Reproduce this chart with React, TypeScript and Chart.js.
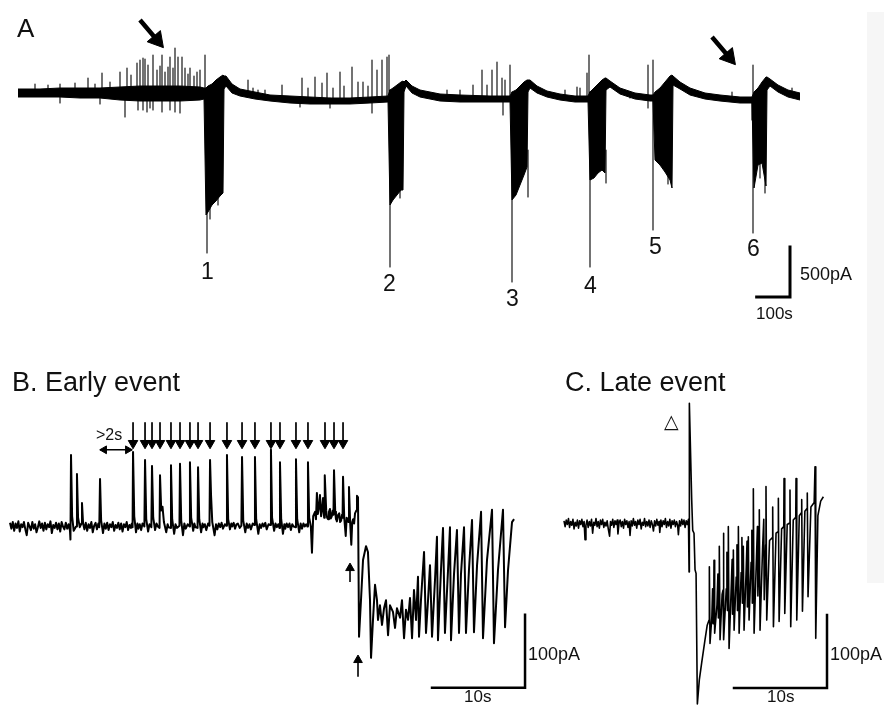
import React, { useEffect, useRef } from "react";
import { Chart, registerables } from "chart.js";

Chart.register(...registerables);

const FONT = '"Liberation Sans", Arial, Helvetica, "DejaVu Sans", sans-serif';

// ---------------- Panel A (time in s, current in pA) ----------------
const A_time = [0, 66, 126, 186, 246, 306, 366, 426, 486, 546, 558, 564, 570, 582, 594, 606, 615, 618, 624, 642, 666, 711, 756, 816, 876, 936, 996, 1056, 1110, 1116, 1125, 1137, 1149, 1155, 1158, 1164, 1182, 1206, 1266, 1326, 1416, 1476, 1482, 1494, 1506, 1518, 1527, 1530, 1536, 1557, 1587, 1626, 1671, 1710, 1716, 1728, 1740, 1752, 1761, 1764, 1776, 1806, 1851, 1896, 1905, 1911, 1926, 1941, 1956, 1962, 1965, 1986, 2016, 2061, 2106, 2166, 2202, 2208, 2220, 2232, 2244, 2247, 2256, 2280, 2310, 2346];
const A_upper = [40, 40, 50, 50, 50, 60, 70, 70, 70, 60, 50, 50, 70, 90, 130, 160, 180, 170, 170, 90, 40, 10, -20, -30, -40, -50, -50, -40, -30, 30, 50, 80, 110, 120, 110, 130, 70, 30, -10, -20, -30, -30, 10, 30, 70, 110, 130, 130, 130, 70, 20, -10, -30, -30, 10, 50, 90, 130, 150, 150, 120, 50, 0, -20, -20, 10, 50, 110, 170, 180, 170, 110, 50, 0, -20, -40, -40, 10, 50, 110, 160, 160, 140, 80, 30, 0];
const A_lower = [-40, -40, -40, -50, -50, -70, -80, -80, -80, -70, -60, -1220, -1190, -1120, -1080, -1030, -1000, 40, 70, 0, -30, -60, -80, -100, -110, -110, -110, -100, -90, -1120, -1070, -1020, -970, -970, 10, 70, 0, -40, -80, -90, -90, -90, -1070, -1020, -920, -820, -740, 10, 50, 0, -40, -70, -90, -90, -870, -850, -800, -770, -800, 30, 60, -10, -60, -80, -80, -670, -720, -790, -870, -950, 80, 40, -20, -60, -80, -100, -100, -950, -720, -700, -930, 30, 70, 10, -40, -70];

const A_spikeTime = [51, 90, 126, 171, 210, 231, 252, 276, 306, 327, 339, 357, 366, 375, 381, 390, 405, 417, 426, 432, 441, 450, 456, 465, 471, 480, 492, 501, 510, 516, 528, 537, 546, 561,
  126, 246, 321, 360, 375, 387, 396, 405, 432, 456, 471, 486,
  567, 576, 600,
  690, 705, 720, 741, 792, 852, 870, 891, 912, 927, 945, 966, 978, 1002, 1020, 1035, 1050, 1062, 1077, 1092, 1107, 1113,
  846, 936, 1062,
  1116, 1146,
  1287, 1326, 1365, 1392, 1407, 1422, 1437, 1452, 1461, 1476, 1455,
  1482, 1530,
  1641, 1677, 1686, 1707, 1713,
  1716, 1764,
  1836, 1890, 1905, 1950,
  2142, 2202, 2205, 2226, 2241, 2322];
const A_spikeHigh = [90, 80, 90, 100, 150, 90, 200, 110, 210, 250, 180, 300, 330, 350, 340, 280, 380, 230, 270, 380, 210, 260, 360, 250, 450, 360, 360, 250, 190, 250, 170, 210, 230, 380,
  0, 0, 0, 0, 0, 0, 0, 0, 0, 0, 0, 0,
  50, -1100, -1000,
  130, 50, 30, 30, 80, 150, 50, 160, 100, 200, 50, 210, 70, 260, 110, 110, 70, 330, 230, 330, 360, 380,
  -50, -50, -50,
  30, -900,
  30, 30, 80, 230, 80, 230, 310, 150, 130, 280, -50,
  10, -570,
  30, 60, 50, 200, 380,
  10, -570,
  10, 280, 330, -800,
  10, -50, 280, -650, -850, 50];
const A_spikeLow = [0, 0, 0, 0, 0, 0, 0, 0, 0, 0, 0, 0, 0, 0, 0, 0, 0, 0, 0, 0, 0, 0, 0, 0, 0, 0, 0, 0, 0, 0, 0, 0, 0, 0,
  -100, -110, -240, -170, -170, -190, -150, -170, -190, -170, -190, -200,
  -1600, -1260, -1120,
  -20, -40, -50, -50, -50, -50, -50, -50, -50, -50, -50, -50, -50, -50, -50, -50, -50, -50, -50, -50, -50, -50,
  -140, -150, -200,
  -1740, -1050,
  -50, -50, -50, -50, -50, -50, -50, -50, -50, -50, -220,
  -1890, -1040,
  -50, -50, -50, -50, -50,
  -1740, -900,
  -50, -150, -1370, -910,
  -50, -270, -1400, -850, -1000, -40];

const A_arrowTail: [number, number][] = [[366, 730], [2082, 560]];
const A_arrowHead: [number, number][] = [[417, 530], [2133, 360]];
const A_scaleCorner: [number, number] = [2316, -2040];
const A_scaleTime = 100; // s
const A_scaleCurrent = 500; // pA

// ---------------- Panel B: early event (s, pA) ----------------
const B_trace: [number, number][] = [
  [0, 3], [0.15, -5], [0.3, 4], [0.45, -8], [0.6, 2], [0.75, -4], [0.9, 5], [1.05, -9], [1.2, 1], [1.35, -3], [1.5, 4], [1.65, -6], [1.8, -14], [1.95, 3], [2.1, -2], [2.25, -7], [2.4, 4], [2.55, -5], [2.7, 1], [2.85, -10], [3.0, -3], [3.15, 5], [3.3, -4], [3.45, 2], [3.6, -8], [3.75, 3], [3.9, -6], [4.05, 1], [4.2, -3], [4.35, 5], [4.5, -11], [4.65, 0], [4.8, -4], [4.95, 3], [5.1, -6], [5.25, 2], [5.4, -9], [5.55, 4], [5.7, -2], [5.85, -6], [6.0, 3], [6.15, -5], [6.3, 1], [6.45, -8], [6.5, -20],
  [6.56, 96], [6.68, 12], [6.85, -8], [7.1, -2], [7.2, 70], [7.32, 10], [7.5, -3], [7.68, 2], [7.74, 30],
  [7.86, 2], [8.0, -6], [8.15, 3], [8.3, -8], [8.45, 1], [8.6, -4], [8.75, 4], [8.9, -10], [9.05, -1], [9.2, 3], [9.35, -6], [9.5, 2], [9.6, -3],
  [9.68, 63], [9.8, 6], [9.92, -4], [10.0, -11], [10.15, 2], [10.3, -5], [10.45, 3], [10.6, -7], [10.75, 1], [10.9, -3], [11.05, 4], [11.2, -8], [11.35, 0], [11.5, -4], [11.65, 3], [11.8, -6], [11.95, 2], [12.1, -9], [12.25, 1], [12.4, -3], [12.55, 4], [12.7, -7], [12.85, 0], [13.0, -4], [13.1, 2], [13.18, -3],
  [13.23, 100], [13.36, 12], [13.55, -10], [13.7, 2], [13.8, -5], [13.95, 1], [14.1, -7], [14.25, 2], [14.45, -2],
  [14.52, 89], [14.65, 8], [14.85, -9], [15.0, 1], [15.2, -3],
  [15.27, 81], [15.4, 10], [15.6, -7], [15.75, 2], [15.9, -2], [16.08, -4],
  [16.13, 68], [16.26, 20], [16.4, 25], [16.55, 4], [16.8, -10], [16.95, 1], [17.05, -3], [17.26, -4],
  [17.31, 82], [17.44, 8], [17.65, -12], [17.8, 1], [17.95, -4], [18.22, -1],
  [18.28, 84], [18.41, 6], [18.6, -14], [18.75, 2], [18.9, -5], [19.1, 1], [19.3, -2],
  [19.35, 86], [19.48, 10], [19.7, -8], [19.82, 2], [19.95, -3], [20.17, -4],
  [20.22, 79], [20.35, 8], [20.55, -10], [20.7, 2], [20.8, -3], [20.95, 1], [21.1, -7], [21.3, 2], [21.45, -1],
  [21.51, 89], [21.62, 40], [21.75, 4], [22.0, -14], [22.15, 1], [22.3, -6], [22.45, 2], [22.6, -3], [22.75, 3], [22.9, -5], [23.1, 1], [23.25, -1],
  [23.33, 96], [23.46, 8], [23.65, -6], [23.8, 2], [23.9, -2], [24.05, 3], [24.2, -5], [24.35, 1], [24.5, 2], [24.7, -4], [24.88, -1],
  [24.95, 93], [25.08, 6], [25.3, -10], [25.45, 2], [25.6, -4], [25.75, 1], [25.9, -6], [26.1, 2], [26.27, 0],
  [26.34, 93], [26.47, 8], [26.7, -12], [26.85, 1], [27.0, -4], [27.15, 2], [27.3, -2], [27.45, 3], [27.6, -6], [27.8, 1], [27.98, 0],
  [28.06, 103], [28.18, 10], [28.4, -8], [28.55, 2], [28.7, -3], [28.85, 1], [28.97, -4],
  [29.03, 86], [29.16, 8], [29.35, -12], [29.5, 1], [29.6, -5], [29.75, 2], [29.9, -3], [30.05, 2], [30.2, -7], [30.35, 1], [30.5, -2], [30.68, -3],
  [30.75, 90], [30.88, 8], [31.1, -10], [31.25, 2], [31.4, -5], [31.55, 2], [31.7, -2], [31.85, 1], [31.98, -2],
  [32.04, 86], [32.17, 10], [32.35, -2], [32.47, -38], [32.6, 12], [32.8, 18], [32.9, 8], [33.0, 44], [33.1, 15], [33.2, 22], [33.33, 41], [33.45, 12], [33.55, 20], [33.66, 37], [33.78, 10], [33.82, 16],
  [33.87, 68], [34.0, 20], [34.1, 10], [34.2, 8], [34.3, 18], [34.4, 22], [34.5, 9], [34.6, 12], [34.7, 20], [34.78, 14],
  [34.84, 75], [34.97, 18], [35.05, 8], [35.15, 5], [35.28, 14], [35.4, 16], [35.5, 4], [35.6, 6], [35.7, 14], [35.76, 10],
  [35.81, 66], [35.94, 10], [36.1, -15], [36.2, 10], [36.3, 8], [36.4, 4],
  [36.45, 52], [36.58, 2], [36.7, -27], [36.8, 4], [36.9, 8], [37.0, 2], [37.1, 16], [37.25, 20],
  [37.31, 40], [37.42, 38],
  [37.53, -153], [37.74, -103], [37.96, -48], [38.28, -29], [38.49, -37], [38.71, -103], [38.82, -182], [39.03, -130], [39.25, -82], [39.46, -103], [39.57, -130], [39.78, -110], [40.0, -137], [40.22, -114], [40.43, -103], [40.65, -151], [40.86, -110], [41.18, -119], [41.4, -141], [41.61, -114], [41.94, -127], [42.15, -103], [42.37, -155], [42.58, -116], [42.8, -130], [43.01, -100], [43.23, -155], [43.44, -89], [43.66, -130], [43.87, -71], [43.98, -153],
  [44.19, -103], [44.52, -37], [44.73, -148], [44.95, -103], [45.16, -55], [45.38, -153], [45.7, -75], [45.91, -16], [46.02, -158], [46.34, -62], [46.56, -4], [46.77, -148], [47.1, -62], [47.31, -3], [47.42, -158], [47.74, -68], [48.06, -7], [48.28, -148], [48.49, -68], [48.82, -3], [49.03, -148], [49.35, -62], [49.68, 7], [49.89, -147], [50.22, -55], [50.65, 18], [50.86, -155], [51.29, -48], [51.83, 21], [52.04, -162], [52.47, -62], [53.01, 21], [53.23, -140], [53.55, -62], [53.98, 4], [54.2, 8]
];
const B_markTimes = [13.23, 14.52, 15.27, 16.13, 17.31, 18.28, 19.35, 20.22, 21.51, 23.33, 24.95, 26.34, 28.06, 29.03, 30.75, 32.04, 33.87, 34.84, 35.81];
const B_markTop = 140;
const B_markHead = 112;
const B_gapStart = 9.68;
const B_gapEnd = 13.12;
const B_gapLevel = 103;
const B_upArrowTimes = [36.56, 37.42];
const B_upArrowBottom = [-78, -208];
const B_upArrowHead = [-59, -185];
const B_scaleCorner: [number, number] = [55.38, -223];
const BC_scaleTime = 10; // s
const BC_scaleCurrent = 100; // pA

// ---------------- Panel C: late event (s, pA) ----------------
const C_trace: [number, number][] = [
  [0, 3], [0.12, -5], [0.24, 4], [0.36, -2], [0.48, 6], [0.6, -6], [0.72, 2], [0.84, -3], [0.96, 5], [1.08, -8], [1.2, 1], [1.32, -4], [1.44, 4], [1.56, -7], [1.68, 3], [1.8, -2], [1.92, 5], [2.04, -5], [2.16, 2], [2.26, -23], [2.36, -3], [2.48, 4], [2.6, -6], [2.72, 2], [2.84, -4], [2.96, 5], [3.08, -14], [3.2, 1], [3.32, -3], [3.44, 6], [3.56, -5], [3.68, 2], [3.8, -7], [3.92, 4], [4.04, -2], [4.16, 5], [4.28, -6], [4.4, 1], [4.52, -4], [4.64, 3], [4.76, -8], [4.9, -18], [5.0, 2], [5.12, -3], [5.24, 5], [5.36, -6], [5.48, 3], [5.6, -2], [5.72, 4], [5.8, -15], [5.92, 0], [6.04, 4], [6.16, -5], [6.28, 2], [6.4, -7], [6.52, 5], [6.64, -2], [6.76, 3], [6.88, -6], [7.0, 2], [7.1, -17], [7.22, 3], [7.34, -4], [7.46, 6], [7.58, -3], [7.7, 2], [7.82, -7], [7.94, 4], [8.06, -2], [8.18, 5], [8.3, -8], [8.42, 1], [8.54, -3], [8.66, 6], [8.78, -5], [8.9, 2], [9.02, -4], [9.14, 4], [9.26, -6], [9.38, 3], [9.5, -2], [9.62, -11], [9.74, 3], [9.86, -4], [9.98, 5], [10.1, -3], [10.22, 2], [10.3, -13], [10.42, 4], [10.54, -5], [10.66, 3], [10.78, -2], [10.9, 6], [11.02, -6], [11.14, 2], [11.26, -4], [11.38, 5], [11.5, -7], [11.62, 3], [11.74, -2], [11.86, 4], [11.98, -5], [12.1, 2], [12.22, -3], [12.3, -16], [12.42, 3], [12.54, -4], [12.66, 5], [12.78, -2], [12.9, 4], [13.02, -6], [13.14, 3], [13.26, -2], [13.38, 5],
  [13.45, -67], [13.48, 164], [13.73, 32], [13.84, -10], [13.98, -14], [14.09, -64], [14.2, -69], [14.34, -248], [14.55, -215], [14.8, -192], [15.16, -160], [15.4, -140],
  [15.6, -133], [15.63, -60], [15.7, -165], [15.9, -128], [15.98, -90], [16.03, -138],
  [16.1, -115], [16.13, -51], [16.2, -151], [16.45, -112], [16.55, -70], [16.6, -130],
  [16.67, -102], [16.7, -32], [16.78, -160], [17.0, -98],
  [17.1, -92], [17.13, -14], [17.2, -160], [17.45, -90], [17.52, -40], [17.57, -120],
  [17.64, -85], [17.67, -5], [17.75, -172], [18.0, -82], [18.08, -50], [18.12, -125],
  [18.18, -76], [18.21, -37], [18.29, -147], [18.52, -74], [18.6, -30], [18.65, -120],
  [18.72, -70], [18.75, -5], [18.83, -151], [19.05, -68], [19.13, -20], [19.18, -110],
  [19.25, -65], [19.28, -32], [19.36, -147], [19.6, -60], [19.68, -25], [19.72, -115],
  [19.79, -58], [19.82, -19], [19.9, -133], [20.12, -54], [20.2, -10], [20.25, -110],
  [20.33, -50], [20.36, 47], [20.44, -151], [20.7, -46], [20.8, -5], [20.85, -100],
  [20.97, -42], [21.0, 18], [21.08, -147], [21.35, -36], [21.48, 5], [21.53, -105],
  [21.69, -30], [21.72, 50], [21.8, -133], [22.1, -24],
  [22.41, -20], [22.44, 22], [22.52, -142], [22.8, -14],
  [23.02, -12], [23.05, 34], [23.13, -135], [23.4, -8],
  [23.63, -5], [23.66, 61], [23.74, -124], [24.0, -2],
  [24.27, 0], [24.3, 45], [24.38, -142], [24.65, 4],
  [24.92, 8], [24.95, 61], [25.03, -133], [25.3, 10],
  [25.53, 14], [25.56, 32], [25.64, -121], [25.9, 16],
  [26.13, 20], [26.16, 41], [26.24, -101], [26.55, 22], [26.9, 28],
  [26.99, 77], [27.07, -158], [27.3, 10], [27.6, 30], [27.89, 36]
];
const C_scaleCorner: [number, number] = [28.28, -226];

// ---------------- Text labels ----------------
const LABELS: { text: string; left: number; top: number; size: number }[] = [
  { text: "A", left: 17, top: 15, size: 26 },
  { text: "1", left: 201, top: 260, size: 23 },
  { text: "2", left: 383, top: 272, size: 23 },
  { text: "3", left: 506, top: 287, size: 23 },
  { text: "4", left: 584, top: 274, size: 23 },
  { text: "5", left: 649, top: 235, size: 23 },
  { text: "6", left: 747, top: 237, size: 23 },
  { text: "500pA", left: 800, top: 265, size: 18 },
  { text: "100s", left: 756, top: 305, size: 17 },
  { text: "B. Early event", left: 12, top: 369, size: 27 },
  { text: "C. Late event", left: 565, top: 369, size: 27 },
  { text: ">2s", left: 96, top: 427, size: 16 },
  { text: "\u25B3", left: 664, top: 412, size: 19 },
  { text: "100pA", left: 528, top: 645, size: 18 },
  { text: "10s", left: 464, top: 688, size: 17 },
  { text: "100pA", left: 830, top: 645, size: 18 },
  { text: "10s", left: 767, top: 688, size: 17 },
];

type P = { x: number; y: number | null };

const pts = (pairs: [number, number][]): P[] => pairs.map(([x, y]) => ({ x, y }));

const segs = (t: number[], hi: number[], lo: number[]): P[] => {
  const out: P[] = [];
  t.forEach((x, i) => {
    out.push({ x, y: hi[i] }, { x, y: lo[i] }, { x, y: null });
  });
  return out;
};

const scaleBar = (corner: [number, number], dt: number, di: number): P[] => [
  { x: corner[0] - dt, y: corner[1] },
  { x: corner[0], y: corner[1] },
  { x: corner[0], y: corner[1] + di },
];

const line = (data: P[], width: number, extra: any = {}) => ({
  data,
  borderColor: "#000",
  backgroundColor: "#000",
  borderWidth: width,
  pointRadius: 0,
  fill: false,
  spanGaps: false,
  borderJoinStyle: "round",
  ...extra,
});

const heads = (data: P[], r: number, rot: number) => ({
  data,
  showLine: false,
  pointRadius: r,
  pointStyle: "triangle",
  pointRotation: rot,
  pointBackgroundColor: "#000",
  pointBorderColor: "#000",
  pointBorderWidth: 1,
});

const opts = (xmin: number, xmax: number, ymin: number, ymax: number) => ({
  responsive: false,
  maintainAspectRatio: false,
  animation: false,
  devicePixelRatio: 1,
  events: [],
  layout: { padding: 0, autoPadding: false },
  plugins: { legend: { display: false }, tooltip: { enabled: false } },
  scales: {
    x: { type: "linear", min: xmin, max: xmax, display: false },
    y: { type: "linear", min: ymin, max: ymax, display: false },
  },
  elements: { line: { tension: 0 }, point: { radius: 0 } },
});

export default function App() {
  const refA = useRef<HTMLCanvasElement>(null);
  const refB = useRef<HTMLCanvasElement>(null);
  const refC = useRef<HTMLCanvasElement>(null);

  useEffect(() => {
    const charts: Chart[] = [];

    // Panel A
    const upper = A_time.map((x, i) => ({ x, y: A_upper[i] }));
    const lower = A_time.map((x, i) => ({ x, y: A_lower[i] }));
    const arrows: P[] = [];
    A_arrowTail.forEach((tail, i) => {
      arrows.push({ x: tail[0], y: tail[1] }, { x: A_arrowHead[i][0], y: A_arrowHead[i][1] }, { x: tail[0], y: null });
    });
    charts.push(
      new Chart(refA.current!, {
        type: "line",
        data: {
          datasets: [
            line(upper, 1, { fill: "+1", borderJoinStyle: "miter" }),
            line(lower, 1, { borderJoinStyle: "miter" }),
            line(segs(A_spikeTime, A_spikeHigh, A_spikeLow), 1.1),
            line(arrows, 4.5, { borderCapStyle: "butt" }),
            heads(A_arrowHead.map(([x, y]) => ({ x, y })), 10, 140),
            line(scaleBar(A_scaleCorner, A_scaleTime, A_scaleCurrent), 3, { borderJoinStyle: "miter", borderCapStyle: "square" }),
          ],
        },
        options: opts(-54, 2598, -6160, 930) as any,
      } as any)
    );

    // Panel B
    const marks: P[] = [];
    B_markTimes.forEach((t) => marks.push({ x: t, y: B_markTop }, { x: t, y: B_markHead }, { x: t, y: null }));
    const ups: P[] = [];
    B_upArrowTimes.forEach((t, i) => ups.push({ x: t, y: B_upArrowBottom[i] }, { x: t, y: B_upArrowHead[i] }, { x: t, y: null }));
    charts.push(
      new Chart(refB.current!, {
        type: "line",
        data: {
          datasets: [
            line(pts(B_trace), 2),
            line(marks, 1.7),
            heads(B_markTimes.map((t) => ({ x: t, y: B_markHead })), 5.5, 180),
            line([{ x: B_gapStart, y: B_gapLevel }, { x: B_gapEnd, y: B_gapLevel }], 1.6),
            heads([{ x: B_gapStart + 0.45, y: B_gapLevel }], 4.5, 270),
            heads([{ x: B_gapEnd - 0.45, y: B_gapLevel }], 4.5, 90),
            line(ups, 1.6),
            heads(B_upArrowTimes.map((t, i) => ({ x: t, y: B_upArrowHead[i] })), 5, 0),
            line(scaleBar(B_scaleCorner, BC_scaleTime, BC_scaleCurrent), 2.5, { borderJoinStyle: "miter", borderCapStyle: "square" }),
          ],
        },
        options: opts(-10 / 9.3, 874 / 9.3, -184 * 1.37, 525 * 1.37) as any,
      } as any)
    );

    // Panel C
    charts.push(
      new Chart(refC.current!, {
        type: "line",
        data: {
          datasets: [
            line(pts(C_trace), 1.6),
            line(scaleBar(C_scaleCorner, BC_scaleTime, BC_scaleCurrent), 2.5, { borderJoinStyle: "miter", borderCapStyle: "square" }),
          ],
        },
        options: opts(-564 / 9.3, 320 / 9.3, -186 * 1.37, 523 * 1.37) as any,
      } as any)
    );

    return () => charts.forEach((c) => c.destroy());
  }, []);

  const cv: React.CSSProperties = { position: "absolute", left: 0, top: 0, width: 884, height: 709 };

  return (
    <div style={{ position: "absolute", left: 0, top: 0, width: 884, height: 709, background: "#fff", overflow: "hidden" }}>
      <div style={{ position: "absolute", left: 867, top: 12, width: 17, height: 571, background: "#f6f6f6" }} />
      <canvas ref={refA} width={884} height={709} style={cv} />
      <canvas ref={refB} width={884} height={709} style={cv} />
      <canvas ref={refC} width={884} height={709} style={cv} />
      {LABELS.map((l, i) => (
        <div
          key={i}
          style={{
            position: "absolute",
            left: l.left,
            top: l.top,
            fontSize: l.size,
            lineHeight: 1,
            fontFamily: FONT,
            color: "#111",
            whiteSpace: "nowrap",
          }}
        >
          {l.text}
        </div>
      ))}
    </div>
  );
}
